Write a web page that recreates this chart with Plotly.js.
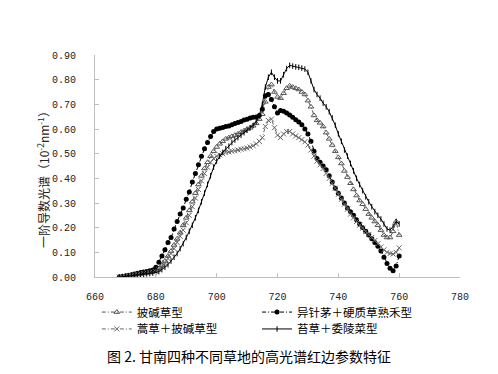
<!DOCTYPE html>
<html>
<head>
<meta charset="utf-8">
<script src="https://cdn.plot.ly/plotly-3.0.1.min.js"></script>
<style>html,body{margin:0;padding:0;background:#fff;}#chart{width:498px;height:374px;}</style>
</head>
<body>
<div id="chart"></div>
<script>
// wavelength (nm)
const wavelength = [668,669,670,671,672,673,674,675,676,677,678,679,680,681,682,683,684,685,686,687,688,689,690,691,692,693,694,695,696,697,698,699,700,701,702,703,704,705,706,707,708,709,710,711,712,713,714,715,716,717,718,719,720,721,722,723,724,725,726,727,728,729,730,731,732,733,734,735,736,737,738,739,740,741,742,743,744,745,746,747,748,749,750,751,752,753,754,755,756,757,758,759,760];

// 披碱草型
const s_pijiancao = [0.000,0.002,0.004,0.006,0.008,0.010,0.012,0.014,0.016,0.018,0.020,0.023,0.026,0.035,0.048,0.065,0.085,0.105,0.130,0.155,0.180,0.210,0.240,0.270,0.305,0.340,0.375,0.410,0.440,0.465,0.490,0.510,0.527,0.540,0.550,0.560,0.565,0.570,0.575,0.580,0.587,0.593,0.600,0.605,0.613,0.623,0.640,0.660,0.710,0.770,0.780,0.750,0.730,0.725,0.745,0.765,0.775,0.770,0.765,0.760,0.750,0.740,0.715,0.690,0.655,0.635,0.625,0.610,0.585,0.560,0.535,0.510,0.485,0.460,0.430,0.405,0.380,0.355,0.330,0.310,0.295,0.275,0.255,0.240,0.225,0.210,0.190,0.170,0.160,0.160,0.185,0.225,0.170];

// 异针茅＋硬质草熟禾型
const s_yizhenmao = [0.000,0.002,0.004,0.006,0.009,0.012,0.015,0.018,0.020,0.022,0.025,0.028,0.040,0.060,0.085,0.110,0.140,0.160,0.195,0.225,0.255,0.280,0.315,0.345,0.385,0.420,0.455,0.490,0.520,0.545,0.570,0.590,0.600,0.603,0.606,0.610,0.612,0.617,0.622,0.626,0.630,0.636,0.640,0.645,0.648,0.649,0.655,0.680,0.735,0.740,0.720,0.690,0.665,0.675,0.672,0.665,0.657,0.648,0.638,0.628,0.617,0.600,0.580,0.550,0.510,0.480,0.465,0.450,0.435,0.410,0.385,0.360,0.340,0.320,0.300,0.280,0.265,0.250,0.232,0.215,0.200,0.185,0.170,0.155,0.140,0.125,0.105,0.080,0.055,0.035,0.025,0.045,0.085];

// 蒿草＋披碱草型
const s_haocao = [0.000,0.001,0.003,0.005,0.007,0.009,0.011,0.013,0.015,0.017,0.019,0.020,0.022,0.030,0.042,0.058,0.075,0.095,0.115,0.140,0.165,0.190,0.220,0.250,0.285,0.320,0.355,0.390,0.420,0.445,0.465,0.480,0.490,0.495,0.500,0.505,0.507,0.510,0.512,0.515,0.518,0.520,0.523,0.527,0.532,0.540,0.550,0.565,0.610,0.635,0.640,0.605,0.575,0.565,0.580,0.590,0.590,0.580,0.572,0.565,0.557,0.548,0.535,0.515,0.490,0.470,0.455,0.440,0.420,0.400,0.380,0.360,0.335,0.315,0.295,0.275,0.255,0.240,0.225,0.210,0.198,0.185,0.172,0.160,0.148,0.135,0.122,0.110,0.100,0.095,0.093,0.100,0.118];

// 苔草＋委陵菜型
const s_taicao = [0.000,0.001,0.002,0.004,0.005,0.007,0.008,0.010,0.011,0.013,0.014,0.016,0.018,0.022,0.030,0.040,0.050,0.065,0.080,0.095,0.115,0.135,0.160,0.185,0.210,0.240,0.270,0.305,0.340,0.375,0.410,0.445,0.470,0.490,0.505,0.520,0.530,0.545,0.555,0.565,0.575,0.585,0.595,0.605,0.615,0.630,0.655,0.700,0.770,0.810,0.830,0.810,0.795,0.795,0.820,0.845,0.858,0.855,0.852,0.850,0.847,0.843,0.830,0.795,0.760,0.740,0.725,0.705,0.690,0.670,0.645,0.615,0.580,0.550,0.515,0.490,0.460,0.430,0.400,0.375,0.350,0.325,0.305,0.285,0.265,0.250,0.235,0.215,0.195,0.190,0.205,0.225,0.215];

const seriesNames = ['披碱草型','异针茅＋硬质草熟禾型','蒿草＋披碱草型','苔草＋委陵菜型'];
const xTickVals = [660,680,700,720,740,760,780];
const yTickVals = [0,0.1,0.2,0.3,0.4,0.5,0.6,0.7,0.8,0.9];

const cjk = '"Noto Sans CJK SC", "Noto Sans", sans-serif';
const mono = '"Liberation Mono", "DejaVu Sans Mono", monospace';

const traces = [
  {x: wavelength, y: s_pijiancao, name: seriesNames[0], type: 'scatter', mode: 'lines+markers',
   line: {color: '#555', width: 1, dash: '4px,2px,1px,2px'},
   marker: {symbol: 'triangle-up-open', size: 5, color: '#555', line: {width: 1, color: '#555'}},
   legend: 'legend'},
  {x: wavelength, y: s_yizhenmao, name: seriesNames[1], type: 'scatter', mode: 'lines+markers',
   line: {color: '#000', width: 1, dash: '4px,2px,1px,2px'},
   marker: {symbol: 'circle', size: 5, color: '#000'},
   legend: 'legend2'},
  {x: wavelength, y: s_haocao, name: seriesNames[2], type: 'scatter', mode: 'lines+markers',
   line: {color: '#666', width: 1, dash: '4px,2px,1px,2px'},
   marker: {symbol: 'x-thin-open', size: 5, color: '#666', line: {width: 1, color: '#666'}},
   legend: 'legend3'},
  {x: wavelength, y: s_taicao, name: seriesNames[3], type: 'scatter', mode: 'lines+markers',
   line: {color: '#000', width: 1},
   marker: {symbol: 'line-ns-open', size: 4, color: '#000', line: {width: 1, color: '#000'}},
   legend: 'legend4'}
];

const legBase = {orientation: 'h', xanchor: 'left', yanchor: 'middle', bgcolor: 'rgba(0,0,0,0)',
  font: {family: cjk, size: 11.5, color: '#000'}, itemwidth: 30};

const layout = {
  width: 498, height: 374,
  margin: {l: 95, r: 38, t: 55, b: 97},
  paper_bgcolor: '#fff', plot_bgcolor: '#fff',
  showlegend: true,
  title: {text: '图 2. 甘南四种不同草地的高光谱红边参数特征', x: 0.5, xanchor: 'center', xref: 'container',
          y: 1 - 357/374, yref: 'container', yanchor: 'middle',
          font: {family: cjk, size: 14, color: '#000'}},
  xaxis: {range: [660, 780], tickvals: xTickVals, ticks: 'inside', ticklen: 4, tickcolor: '#bfbfbf',
          showline: true, linecolor: '#bfbfbf', linewidth: 1, showgrid: false, zeroline: false,
          tickfont: {family: mono, size: 10, color: '#222'}, ticklabelstandoff: 10},
  yaxis: {range: [0, 0.9], tickvals: yTickVals, tickformat: '.2f', ticks: 'inside', ticklen: 4, tickcolor: '#bfbfbf',
          showline: true, linecolor: '#bfbfbf', linewidth: 1, showgrid: false, zeroline: false,
          tickfont: {family: mono, size: 10, color: '#222'}, ticklabelstandoff: 16},
  annotations: [
    {text: '一阶导数光谱（10<sup>-2</sup>nm<sup>-1</sup>）', textangle: -90, showarrow: false,
     xref: 'paper', yref: 'paper', x: (43 - 95) / 365, y: (277 - 177) / 222, xanchor: 'center', yanchor: 'middle',
     font: {family: cjk, size: 12, color: '#222'}}
  ],
  legend: Object.assign({}, legBase, {x: 0.005, y: -0.158}),
  legend2: Object.assign({}, legBase, {x: 0.444, y: -0.158}),
  legend3: Object.assign({}, legBase, {x: 0.005, y: -0.234}),
  legend4: Object.assign({}, legBase, {x: 0.444, y: -0.234})
};

Plotly.newPlot('chart', traces, layout, {displayModeBar: false, staticPlot: true});
</script>
</body>
</html>
